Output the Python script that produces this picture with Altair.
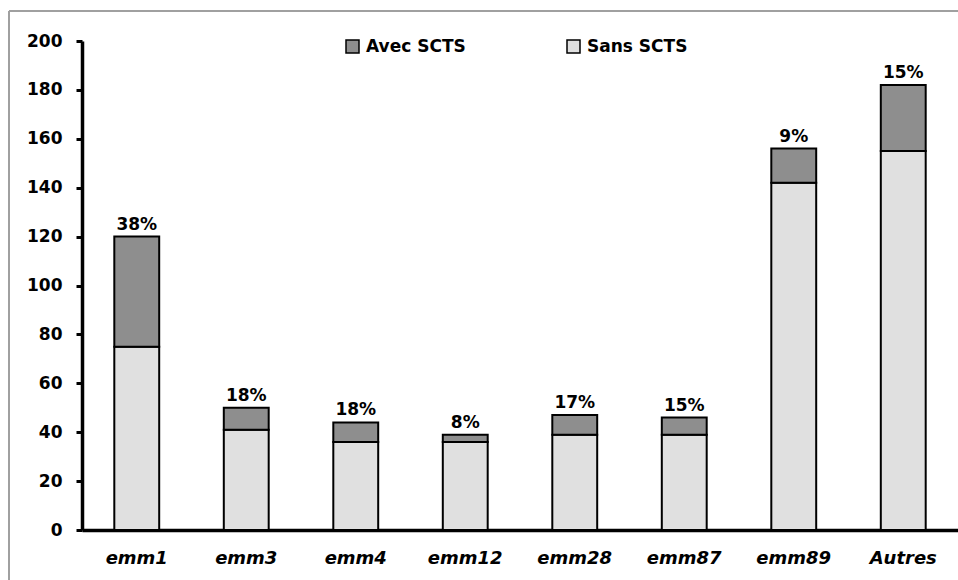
import altair as alt
import pandas as pd

categories = ["emm1", "emm3", "emm4", "emm12", "emm28", "emm87", "emm89", "Autres"]
sans_scts = [75, 41, 36, 36, 39, 39, 142, 155]
avec_scts = [45, 9, 8, 3, 8, 7, 14, 27]
pct_labels = ["38%", "18%", "18%", "8%", "17%", "15%", "9%", "15%"]
series_names = ["Avec SCTS", "Sans SCTS"]
series_colors = ["#8e8e8e", "#e0e0e0"]
y_ticks = [0, 20, 40, 60, 80, 100, 120, 140, 160, 180, 200]

FONT = "DejaVu Sans"

rows = []
for c, s, a in zip(categories, sans_scts, avec_scts):
    rows.append({"cat": c, "series": "Sans SCTS", "value": s, "ord": 0})
    rows.append({"cat": c, "series": "Avec SCTS", "value": a, "ord": 1})
df = pd.DataFrame(rows)

lab = pd.DataFrame({
    "cat": categories,
    "total": [s + a for s, a in zip(sans_scts, avec_scts)],
    "pct": pct_labels,
})

xscale = alt.Scale(domain=categories, paddingInner=0.59, paddingOuter=0.295)

bars = alt.Chart(df).mark_bar(stroke="black", strokeWidth=2).encode(
    x=alt.X("cat:N", sort=categories, scale=xscale, title=None,
            axis=alt.Axis(labelAngle=0, ticks=False, domainColor="black", domainWidth=3.5,
                          labelFont=FONT, labelFontSize=18, labelFontWeight="bold",
                          labelFontStyle="italic", labelColor="black", labelPadding=19,
                          grid=False)),
    y=alt.Y("value:Q", stack="zero", scale=alt.Scale(domain=[0, 200], nice=False), title=None,
            axis=alt.Axis(values=y_ticks, grid=False, domainColor="black", domainWidth=3.5,
                          tickColor="black", tickWidth=3, tickSize=6,
                          labelFont=FONT, labelFontSize=17, labelFontWeight="bold",
                          labelColor="black", labelPadding=14)),
    color=alt.Color("series:N", scale=alt.Scale(domain=series_names, range=series_colors),
                    legend=alt.Legend(title=None, orient="none", legendX=262, legendY=-3,
                                      direction="horizontal", symbolType="square",
                                      symbolSize=169, symbolStrokeColor="black",
                                      symbolStrokeWidth=1.5, symbolOpacity=1,
                                      labelFont=FONT, labelFontSize=17, labelFontWeight="bold",
                                      labelColor="black", labelOffset=5, columnPadding=98)),
    order=alt.Order("ord:Q"),
)

texts = alt.Chart(lab).mark_text(baseline="bottom", dy=-3, font=FONT, fontSize=17,
                                  fontWeight="bold", color="black").encode(
    x=alt.X("cat:N", sort=categories, scale=xscale),
    y=alt.Y("total:Q"),
    text="pct:N",
)

one = pd.DataFrame({"a": [0]})
border_top = alt.Chart(one).mark_rule(color="#a0a0a0", strokeWidth=2).encode(
    x=alt.value(-73), x2=alt.value(900), y=alt.value(-30))
border_left = alt.Chart(one).mark_rule(color="#a0a0a0", strokeWidth=2).encode(
    x=alt.value(-73), y=alt.value(-30), y2=alt.value(560))

chart = alt.layer(border_top, border_left, bars, texts).properties(
    width=876, height=489,
    padding={"left": 82, "top": 41, "right": 0, "bottom": 50},
    autosize=alt.AutoSizeParams(type="none"),
    background="white",
).configure_view(stroke=None)

chart.save("out.html", embed_options={"renderer": "svg", "actions": False})
